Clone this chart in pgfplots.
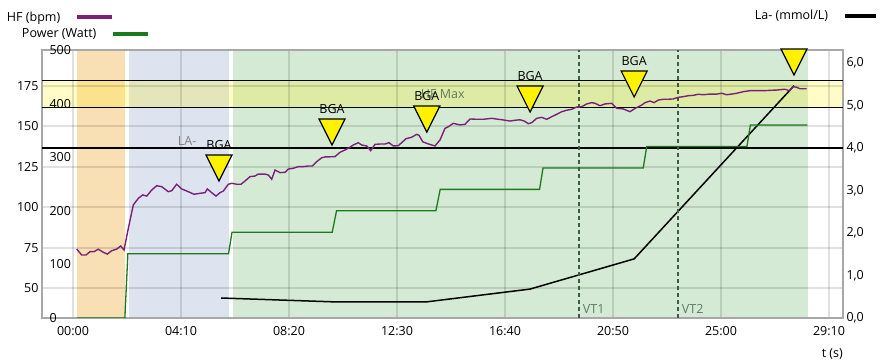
\documentclass[border=0pt]{standalone}
\usepackage{pgfplots}
\pgfplotsset{compat=1.18}
\usepackage{fontspec}
\setmainfont{Open Sans}
\definecolor{hfc}{HTML}{7A2278}
\definecolor{pwc}{HTML}{1C7A1C}
\definecolor{orb}{HTML}{F9E0B4}
\definecolor{blb}{HTML}{DDE3EF}
\definecolor{grb}{HTML}{D4EAD4}
\definecolor{framec}{HTML}{A8A8A8}
\definecolor{vtc}{HTML}{3E5B3E}
\definecolor{vtl}{HTML}{5F7A5F}
\pgfdeclareplotmark{bga}{%
  \pgfpathmoveto{\pgfpoint{0bp}{0bp}}%
  \pgfpathlineto{\pgfpoint{-13bp}{26bp}}%
  \pgfpathlineto{\pgfpoint{13bp}{26bp}}%
  \pgfpathclose
  \pgfusepathqfillstroke}
\pgfplotsset{
  myaxis/.style={
    scale only axis, width=801bp, height=268bp,
    xmin=-71.8, xmax=1782.4,
    at={(0bp,0bp)}, anchor=south west,
    set layers,
    font=\fontsize{12.5bp}{15bp}\selectfont,
    /pgf/number format/assume math mode=true,
    major tick length=0pt,
    legend plot pos=right,
    legend style={draw=none, fill=none, anchor=west, inner sep=0pt, outer sep=0pt,
      nodes={inner sep=0pt, text=black}, column sep=15bp},
  },
}
\begin{document}
\begin{tikzpicture}
\path (-42bp,-45bp) rectangle (843bp,318bp);
% ---------- La- axis (right) ----------
\begin{axis}[
  myaxis,
  hide x axis,
  axis line style={draw=none},
  ymin=0, ymax=6.3,
  ytick={0,1,...,6},
  yticklabel pos=right,
  yticklabel style={/pgf/number format/.cd, fixed, fixed zerofill, precision=1, use comma},
  legend style={at={(axis description cs:0.8901,1.1269)}},
  legend image code/.code={\draw[#1, line width=4bp] (0bp,0bp) -- (31bp,0bp);},
]
\addplot[black, line width=1.5bp] coordinates {
 (343,0.47) (602,0.38) (819,0.38) (1058,0.68) (1299,1.39) (1669,5.46)};
\addlegendentry{La- (mmol/L)}
\addplot[black, line width=2bp, forget plot] coordinates {(-71.8,4) (1782.4,4)};
\node[text=gray, anchor=south west, inner sep=1bp] at (axis cs:240,4.02) {LA-};
\end{axis}
% ---------- Power axis ----------
\begin{axis}[
  myaxis,
  hide x axis,
  axis line style={draw=none},
  ymin=0, ymax=500,
  ytick={0,100,...,500},
  yticklabel style={anchor=west, xshift=4bp},
  legend style={at={(axis description cs:-0.025,1.0597)}},
  legend image code/.code={\draw[#1, line width=4bp] (0bp,0bp) -- (35bp,0bp);},
]
\addplot[pwc, line width=1.3bp] coordinates {
 (9,0) (120,0) (127,120) (360,120) (368,160) (600,160) (610,200) (840,200)
 (850,240) (1080,240) (1088,280) (1320,280) (1328,320) (1560,320) (1568,360) (1700,360)};
\addlegendentry{Power (Watt)}
\end{axis}
% ---------- HF axis (main) ----------
\begin{axis}[
  myaxis,
  ymin=31.44, ymax=197.28,
  ytick={50,75,...,175},
  xtick={0,250,...,1750},
  xticklabels={00:00,04:10,08:20,12:30,16:40,20:50,25:00,29:10},
  xticklabel style={yshift=-5bp},
  grid=major,
  major grid style={line width=2bp, black, opacity=0.12},
  axis line style={line width=2.5bp, framec},
  xlabel={t (s)},
  x label style={at={(axis description cs:1,0)}, anchor=east, yshift=-36bp, inner sep=0pt},
  legend style={at={(axis description cs:-0.0437,1.1231)}},
  legend image code/.code={\draw[#1, line width=4bp] (0bp,0bp) -- (35bp,0bp);},
]
% background bands
\addplot[draw=none, fill=orb, on layer=axis background, forget plot] coordinates {(9,31.44) (9,197.28) (120,197.28) (120,31.44)};
\addplot[draw=none, fill=blb, on layer=axis background, forget plot] coordinates {(130,31.44) (130,197.28) (361,197.28) (361,31.44)};
\addplot[draw=none, fill=grb, on layer=axis background, forget plot] coordinates {(370,31.44) (370,197.28) (1701,197.28) (1701,31.44)};
\addplot[draw=none, fill=yellow, fill opacity=0.22, on layer=axis background, forget plot] coordinates {(-71.8,161.4) (-71.8,178.1) (1782.4,178.1) (1782.4,161.4)};
% HF max lines
\addplot[black, line width=1bp, forget plot] coordinates {(-71.8,161.4) (1782.4,161.4)};
\addplot[black, line width=1bp, forget plot] coordinates {(-71.8,178.1) (1782.4,178.1)};
% VT lines
\addplot[vtc, line width=1.5bp, dash pattern=on 4bp off 3bp, forget plot] coordinates {(1171,31.44) (1171,197.28)};
\addplot[vtc, line width=1.5bp, dash pattern=on 4bp off 3bp, forget plot] coordinates {(1400,31.44) (1400,197.28)};
\node[text=vtl, anchor=west, inner sep=0pt] at (axis cs:1180,37) {VT1};
\node[text=vtl, anchor=west, inner sep=0pt] at (axis cs:1409,37) {VT2};
\node[text=vtl] at (axis cs:856,170) {HF Max};
% HF line
\addplot[hfc, line width=1.4bp] coordinates {
 (8.6,74.1) (20.1,70.4) (30.1,70.4) (39.4,72.5) (48.6,72.5) (58.6,74.0) (70.1,72.1) (79.4,71.0)
 (89.6,73.1) (101.2,74.1) (110.4,76.0) (118.1,73.5) (128.0,86.9) (139.6,101.4) (151.2,105.5)
 (161.3,107.6) (170.6,106.9) (182.2,110.6) (193.7,113.3) (205.3,112.7) (220.6,109.6) (228.5,110.2)
 (240.0,114.2) (251.6,111.3) (266.9,109.6) (280.1,108.0) (294.0,108.6) (305.6,109.0) (310.9,111.3)
 (321.1,109.0) (331.0,106.9) (340.3,109.0) (347.9,110.0) (359.5,114.2) (367.4,114.8) (378.9,114.2)
 (388.9,114.2) (398.1,116.2) (409.7,118.9) (421.3,119.3) (428.9,120.5) (444.4,120.5) (452.1,119.9)
 (460.0,117.3) (467.6,123.0) (479.2,121.4) (490.7,121.6) (498.4,123.6) (510.0,124.1) (521.5,125.1)
 (533.1,125.1) (544.7,125.5) (553.9,125.5) (564.1,128.2) (575.7,130.6) (583.3,131.1) (606.5,131.3)
 (618.1,134.0) (629.6,135.4) (641.2,137.1) (648.8,138.5) (660.4,139.9) (668.3,138.5) (679.9,137.9)
 (689.1,135.0) (699.1,138.9) (710.6,139.1) (722.2,139.1) (731.5,139.9) (741.4,137.9) (753.0,138.1)
 (760.7,139.9) (770.8,142.4) (784.0,143.3) (795.6,145.1) (800.9,144.5) (809.5,140.5) (818.7,139.5)
 (830.3,138.5) (838.0,137.9) (849.5,141.6) (861.1,148.8) (868.8,149.8) (880.3,151.9) (895.8,150.9)
 (907.4,151.3) (919.0,154.6) (934.5,154.4) (949.8,154.4) (969.2,155.0) (984.5,154.4) (996.1,154.0)
 (1011.6,153.3) (1023.1,153.8) (1034.7,154.1) (1044.7,153.3) (1053.9,151.7) (1061.8,152.3)
 (1073.4,155.0) (1084.9,155.6) (1096.5,154.4) (1108.1,156.0) (1119.7,157.5) (1131.2,159.1)
 (1142.8,160.0) (1154.4,160.6) (1166.0,162.0) (1177.5,162.2) (1189.1,163.9) (1200.7,164.7)
 (1208.3,164.3) (1219.9,162.8) (1231.5,163.9) (1247.0,164.3) (1258.6,161.2) (1273.9,160.8)
 (1289.3,159.1) (1300.9,161.1) (1316.4,163.2) (1324.1,164.7) (1335.7,165.7) (1344.9,164.7)
 (1354.9,166.3) (1366.5,166.8) (1378.0,166.8) (1389.6,167.0) (1401.2,168.0) (1412.7,168.4)
 (1424.3,169.0) (1435.9,169.2) (1447.5,169.9) (1459.0,169.6) (1474.5,170.0) (1490.0,170.0)
 (1501.6,170.5) (1513.2,169.6) (1524.7,170.0) (1536.3,170.5) (1551.6,171.5) (1567.1,172.1)
 (1597.9,172.1) (1628.9,172.5) (1648.1,173.0) (1658.1,172.1) (1667.3,174.6) (1675.2,174.2)
 (1682.9,173.3) (1698.4,173.3)};
\addlegendentry{HF (bpm)}
% BGA markers
\addplot[only marks, mark=bga, mark options={fill=yellow, draw=black, line width=1.2bp},
  nodes near coords={BGA}, every node near coord/.style={anchor=center, yshift=36bp, text=black, inner sep=0pt},
  forget plot] coordinates {(338,116.2) (599.5,138.5) (819,146.5) (1058,158.9) (1299,168.2)};
\addplot[only marks, mark=bga, mark options={fill=yellow, draw=black, line width=1.2bp}, forget plot]
  coordinates {(1669,181.8)};
\end{axis}
\end{tikzpicture}
\end{document}
